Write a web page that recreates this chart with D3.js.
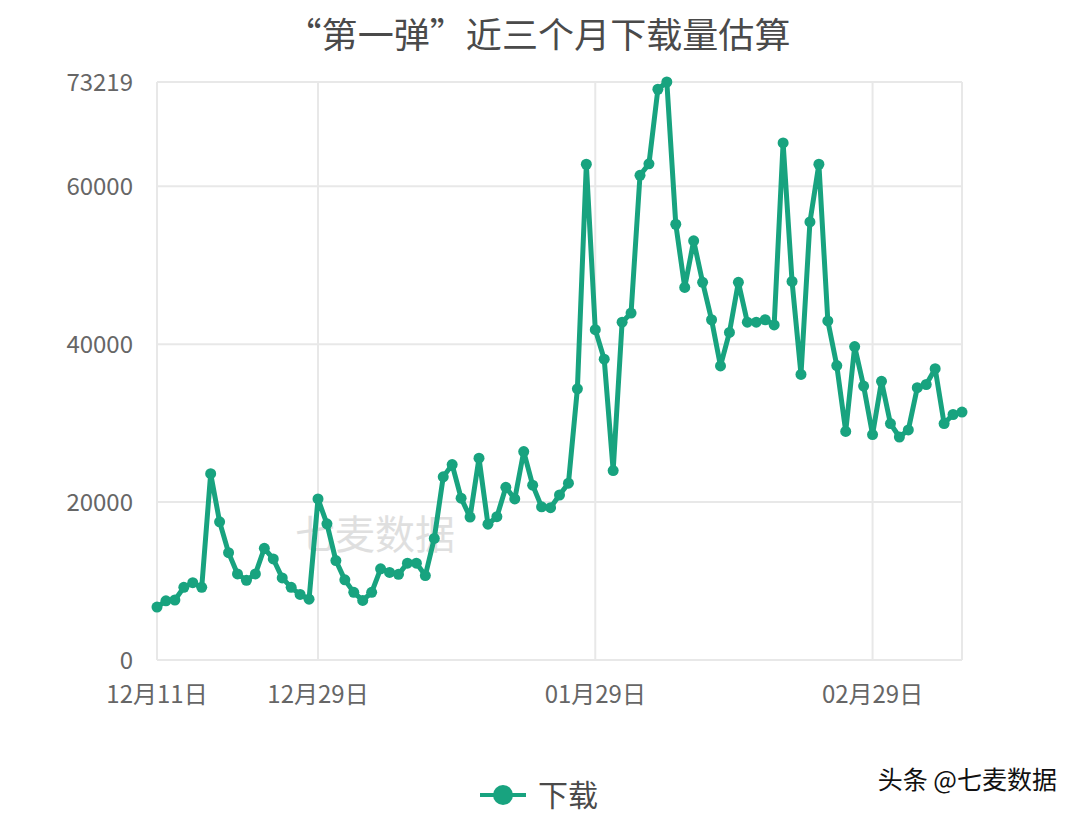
<!DOCTYPE html>
<html><head><meta charset="utf-8">
<script src="https://cdn.jsdelivr.net/npm/d3@7"></script>
<style>
html,body{margin:0;padding:0;background:#fff;}
svg{display:block;}
text{font-family:"Noto Sans CJK SC","Noto Sans",sans-serif;}
</style></head>
<body>
<svg id="chart" width="1080" height="818"></svg>
<script>
const title = "“第一弹”近三个月下载量估算";
const seriesName = "下载";
const downloads = [
  6700, 7500, 7600, 9200, 9800, 9200, 23600, 17500, 13600, 10900,
  10100, 10900, 14150, 12800, 10400, 9200, 8300, 7700, 20400, 17250,
  12600, 10150, 8570, 7550, 8570, 11550, 11100, 10850, 12270, 12270,
  10700, 15400, 23200, 24750, 20500, 18100, 25570, 17200, 18150, 21880,
  20400, 26400, 22150, 19400, 19300, 20900, 22400, 34350, 62800, 41850,
  38100, 24000, 42800, 43950, 61400, 62850, 72300, 73219, 55200, 47200,
  53100, 47850, 43100, 37250, 41500, 47850, 42800, 42800, 43100, 42450,
  65500, 47950, 36180, 55500, 62800, 42950, 37300, 28950, 39700, 34700,
  28550, 35300, 29950, 28250, 29150, 34500, 34900, 36900, 29950, 31100,
  31400
];
const xTickIndex = [0, 18, 49, 80];
const xTickLabels = ["12月11日", "12月29日", "01月29日", "02月29日"];
const yTicks = [0, 20000, 40000, 60000, 73219];
const watermark = "七麦数据";
const credit = "头条 @七麦数据";

const svg = d3.select("#chart");
const M = {left:157, right:962, top:82, bottom:660};
const color = "#18a37f";
const grid = "#e8e8e8";

const x = d3.scaleLinear().domain([0, downloads.length - 1]).range([M.left, M.right]);
const y = d3.scaleLinear().domain([0, 73219]).range([M.bottom, M.top]);

// title
svg.append("text").attr("x", 538).attr("y", 48).attr("text-anchor","middle")
  .attr("font-size", 35).attr("fill", "#4a4a4a")
  .attr("textLength", 505).attr("lengthAdjust", "spacingAndGlyphs").text(title);

// horizontal grid
svg.append("g").selectAll("line").data(yTicks).join("line")
  .attr("x1", M.left).attr("x2", M.right)
  .attr("y1", d => y(d)).attr("y2", d => y(d))
  .attr("stroke", grid).attr("stroke-width", 2);
// vertical grid
svg.append("g").selectAll("line").data(xTickIndex.concat([downloads.length - 1])).join("line")
  .attr("x1", d => x(d)).attr("x2", d => x(d))
  .attr("y1", M.top).attr("y2", M.bottom)
  .attr("stroke", grid).attr("stroke-width", 2);

// y labels
svg.append("g").selectAll("text").data(yTicks).join("text")
  .attr("x", 133).attr("y", d => y(d) + 9).attr("text-anchor","end")
  .attr("font-size", 24).attr("fill", "#666").text(d => d);

// x labels
svg.append("g").selectAll("text").data(xTickIndex).join("text")
  .attr("x", d => x(d)).attr("y", 703).attr("text-anchor","middle")
  .attr("font-size", 24).attr("fill", "#666").text((d,i) => xTickLabels[i]);

// watermark
svg.append("text").attr("x", 375).attr("y", 549).attr("text-anchor","middle")
  .attr("font-size", 40).attr("fill", "#d8d8d8").attr("opacity", 0.8).text(watermark);

// line
const line = d3.line().x((d,i) => x(i)).y(d => y(d));
svg.append("path").datum(downloads).attr("d", line)
  .attr("fill","none").attr("stroke", color).attr("stroke-width", 5)
  .attr("stroke-linejoin","round");
svg.append("g").selectAll("circle").data(downloads).join("circle")
  .attr("cx", (d,i) => x(i)).attr("cy", d => y(d)).attr("r", 5.5)
  .attr("fill", color);

// legend
const lg = svg.append("g");
lg.append("line").attr("x1", 480).attr("x2", 526).attr("y1", 795).attr("y2", 795)
  .attr("stroke", color).attr("stroke-width", 4);
lg.append("circle").attr("cx", 503).attr("cy", 795).attr("r", 10).attr("fill", color);
lg.append("text").attr("x", 538).attr("y", 806).attr("font-size", 30)
  .attr("fill", "#4a4a4a").text(seriesName);

// credit
svg.append("text").attr("x", 1057).attr("y", 789).attr("text-anchor","end")
  .attr("font-size", 25).attr("fill", "#111")
  .attr("stroke", "#fff").attr("stroke-width", 1).attr("paint-order","stroke")
  .text(credit);
</script>
</body></html>
